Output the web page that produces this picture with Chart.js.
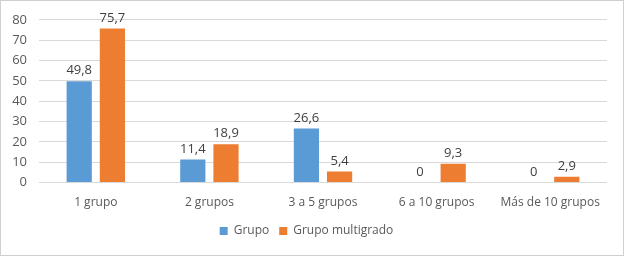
<!DOCTYPE html>
<html><head><meta charset="utf-8">
<script src="https://cdn.jsdelivr.net/npm/chart.js@4/dist/chart.umd.min.js"></script>
<style>html,body{margin:0;padding:0;background:#fff}#wrap{width:624px;height:256px;position:relative}</style>
</head><body><div id="wrap"><canvas id="c" width="624" height="256"></canvas></div>
<script>
const categories = ["1 grupo", "2 grupos", "3 a 5 grupos", "6 a 10 grupos", "Más de 10 grupos"];
const grupo = [49.8, 11.4, 26.6, 0, 0];
const multigrado = [75.7, 18.9, 5.4, 9.3, 2.9];
const seriesNames = ["Grupo", "Grupo multigrado"];
const yTicks = [0, 10, 20, 30, 40, 50, 60, 70, 80];

const FONT = "'Open Sans', 'Liberation Sans', sans-serif";
const fmt = v => String(v).replace('.', ',');

const labelPlugin = {
  id: 'vals',
  afterDatasetsDraw(chart) {
    const ctx = chart.ctx;
    ctx.save();
    ctx.fillStyle = '#404040';
    ctx.font = '13px ' + FONT;
    ctx.textAlign = 'center';
    ctx.textBaseline = 'bottom';
    chart.data.datasets.forEach((ds, i) => {
      chart.getDatasetMeta(i).data.forEach((bar, j) => {
        ctx.fillText(fmt(ds.data[j]), bar.x, bar.y - 4);
      });
    });
    ctx.restore();
  }
};
const borderPlugin = {
  id: 'frame',
  afterDraw(chart) {
    const ctx = chart.ctx;
    ctx.save();
    ctx.strokeStyle = '#d0d0d0';
    ctx.lineWidth = 1;
    ctx.strokeRect(0.5, 0.5, chart.width - 1, chart.height - 1);
    ctx.restore();
  }
};

new Chart(document.getElementById('c'), {
  type: 'bar',
  data: {
    labels: categories,
    datasets: [
      { label: seriesNames[0], data: grupo, backgroundColor: '#5B9BD5' },
      { label: seriesNames[1], data: multigrado, backgroundColor: '#ED7D31' }
    ]
  },
  options: {
    responsive: false,
    animation: false,
    devicePixelRatio: 1,
    categoryPercentage: 0.584,
    barPercentage: 0.76,
    layout: { padding: { top: 10, right: 17, left: 6, bottom: 9 } },
    scales: {
      x: {
        grid: { display: false },
        border: { display: false },
        ticks: { color: '#595959', font: { size: 12, family: FONT }, padding: 5, maxRotation: 0, autoSkip: false }
      },
      y: {
        min: 0, max: 80,
        afterBuildTicks: s => { s.ticks = yTicks.map(v => ({ value: v })); },
        grid: { color: '#d9d9d9', drawTicks: false },
        border: { display: false },
        ticks: { color: '#595959', font: { size: 13, family: FONT }, padding: 12, autoSkip: false },
        afterFit: s => { s.width = 33; }
      }
    },
    plugins: {
      legend: {
        position: 'bottom',
        labels: { color: '#595959', font: { size: 12, family: FONT }, boxWidth: 8, boxHeight: 8, padding: 10 }
      },
      tooltip: { enabled: false }
    }
  },
  plugins: [labelPlugin, borderPlugin]
});
</script></body></html>
